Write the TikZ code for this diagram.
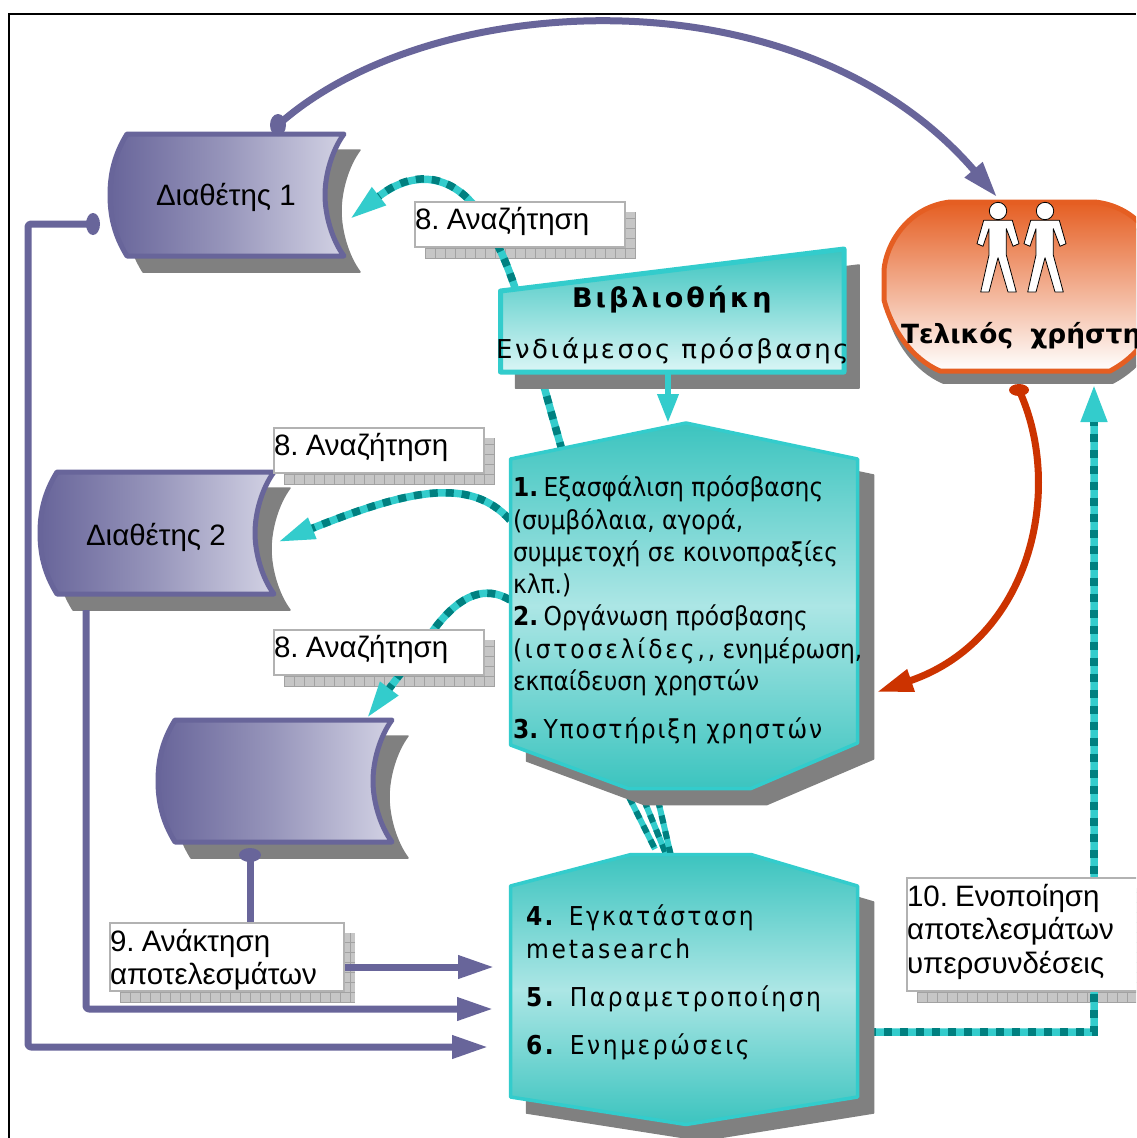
\documentclass[tikz,border=0pt]{standalone}
\usepackage{fontspec}
\setmainfont{Liberation Sans}
\newfontfamily\hexfont[FakeStretch=0.9]{DejaVu Sans}
\newfontfamily\wfont{DejaVu Sans}
\usetikzlibrary{arrows.meta,calc}
\definecolor{purp}{HTML}{68659A}
\definecolor{purpl}{HTML}{D2D2E4}
\definecolor{cy}{HTML}{33CCCC}
\definecolor{tealdk}{HTML}{008080}
\definecolor{hexout}{HTML}{3CC4BF}
\definecolor{hexmid}{HTML}{ACE6E5}
\definecolor{shad}{HTML}{808080}
\definecolor{gridbg}{HTML}{C6C6C6}
\definecolor{gridln}{HTML}{A2A2A2}
\definecolor{orang}{HTML}{E55E22}
\definecolor{redc}{HTML}{CC3300}
\tikzset{
  x=1pt,y=-1pt,
  txt/.style={inner sep=0pt,outer sep=0pt,anchor=base west,text=black},
  lab/.style={txt,font=\fontsize{29.5}{32}\selectfont},
  hx/.style={txt,font=\hexfont\fontsize{26}{30}\selectfont},
  shadowfill/.style={fill=shad,draw=shad,line width=1.5pt,line join=round},
  purpline/.style={draw=purp,line width=7pt,line join=round},
  purparrow/.style={purpline,-{Triangle[length=36pt,width=22pt]}},
  cyanline/.style={draw=cy,line width=7.5pt},
  dashline/.style={draw=tealdk,line width=7.5pt,dash pattern=on 8pt off 8pt},
  cyanhead/.style={-{Triangle[length=37pt,width=21pt]}},
  hexbox/.style={draw=cy,line width=3.5pt,line join=round,top color=hexout,bottom color=hexout,middle color=hexmid},
  labelbox/.style={fill=white,draw=black!30,line width=1.5pt}
}
\newcommand\hexaone{(510.5,459) -- (686,423) -- (857.5,459) -- (857.5,743) -- (751,788.5) -- (628,788.5) -- (510.5,745) -- cycle}
\newcommand\hexatwo{(510.5,886) -- (631,854.5) -- (751,854.5) -- (857.5,886) -- (857.5,1097) -- (686,1124.5) -- (510.5,1097) -- cycle}
\newcommand\libshape{(500.5,291) -- (844,249) -- (844,372) -- (500.5,372) -- cycle}
\newcommand\usershape{(884,270) .. controls (886,245) and (907,207) .. (950,202) -- (1095,202) .. controls (1140,207) and (1160,245) .. (1162,270) -- (1162,300) .. controls (1155,330) and (1140,355) .. (1110,371) -- (940,371) .. controls (912,359) and (892,330) .. (884,300) -- cycle}
\newcommand\scrollpath{(127,134) -- (344,134) .. controls (332,150) and (325,175) .. (325,195) .. controls (325,215) and (332,240) .. (344,256) -- (127,256) .. controls (114,235) and (110,215) .. (110,195) .. controls (110,175) and (114,155) .. (127,134) -- cycle}
\newcommand\scrollat[2]{%
  \begin{scope}[shift={(#1,#2)}]
    \path[shadowfill,shift={(16,16)}] \scrollpath;
    \path[draw=purp,line width=5pt,line join=round,left color=purp,right color=purpl,middle color=purp!55!purpl] \scrollpath;
  \end{scope}}
\newcommand\labshadow[4]{%
  \begin{scope}
    \clip ({#1+10},{#2+10}) rectangle ({#3+11},{#4+11});
    \fill[gridbg] ({#1+10},{#2+10}) rectangle ({#3+11},{#4+11});
    \foreach \g in {0,10,...,300}{
      \draw[gridln,line width=.7pt] ({#1+10+\g},{#2+10}) -- ({#1+10+\g},{#4+11});
    }
    \foreach \g in {0,10,...,130}{
      \draw[gridln,line width=.7pt] ({#1+10},{#4+11-\g}) -- ({#3+11},{#4+11-\g});
    }
  \end{scope}}
\newcommand\persona[1]{%
  \begin{scope}[shift={#1}]
    \draw[fill=white,draw=black,line width=.8pt,line join=round] (-14.3,9.3) -- (14.3,9.3) -- (21,32.7) -- (15,35.3) -- (8.3,17.7) -- (8.3,44) -- (18.3,81) -- (10,81) -- (0,46.7) -- (-9,81) -- (-17.3,81) -- (-9,44) -- (-9,17.7) -- (-15,35.3) -- (-21,32.7) -- cycle;
    \draw[fill=white,draw=black,line width=.8pt] (0,0) circle (8.7);
  \end{scope}}
\newcommand\trk[1]{\addfontfeature{LetterSpace=#1}}
\begin{document}
\begin{tikzpicture}
\useasboundingbox (0,0) rectangle (1136,1138);
\fill[white] (0,0) rectangle (1136,1138);
\begin{scope}
\clip (0,0) rectangle (1136,1138);
\draw[black,line width=1.6pt] (9,1138) -- (9,14) -- (1136,14);

% connector end points
\coordinate (hubA) at (562,450);
\coordinate (tipDa) at (350,219);
\coordinate (hubB) at (510,520);
\coordinate (tipDb) at (278,542);
\coordinate (hubC) at (510,600);
\coordinate (tipDc) at (367,718);
\coordinate (srcA) at (278,125);
\coordinate (userTop) at (997,197);
\coordinate (srcD) at (93,224);
\coordinate (inSix) at (488,1047);
\coordinate (srcE) at (86,610);
\coordinate (inFive) at (493,1009);
\coordinate (srcF) at (250,855);
\coordinate (inFour) at (494,967);
\coordinate (srcU) at (1019,390);
\coordinate (hubR) at (877,692);
\coordinate (outH) at (868,1032);
\coordinate (userBot) at (1094,385);
\coordinate (libOut) at (668,374);
\coordinate (hubTop) at (668,423);
\coordinate (aOne) at (629,797);
\coordinate (aTwo) at (655,849);
\coordinate (bOne) at (644,800);
\coordinate (bTwo) at (666,854);
\coordinate (cOne) at (658,800);
\coordinate (cTwo) at (671,856);

% label shadows
\labshadow{415}{202}{625}{247}
\labshadow{274}{428}{484}{473}
\labshadow{274}{630}{484}{675}
\labshadow{110}{923}{344}{991}
\labshadow{907}{878}{1200}{991}

% scroll shapes and user shape
\scrollat{0}{0}
\scrollat{-70}{338}
\scrollat{48}{586}
\path[shadowfill,shift={(3,12)}] \usershape;
\path[draw=orang,line width=5pt,line join=round,top color=orang,bottom color=white] \usershape;
\persona{(998,211)}
\persona{(1045,211)}

% dashed connectors
\newcommand\dashedpath[2]{%
  \draw[cyanline,#1] #2;
  \draw[dashline,#1,-,shorten >=37pt] #2;}
\dashedpath{cyanhead}{(hubA) .. controls (530,340) and (515,270) .. (490,232) .. controls (470,185) and (425,160) .. (tipDa)}
\dashedpath{cyanhead}{(hubB) .. controls (470,476) and (408,490) .. (tipDb)}
\dashedpath{cyanhead}{(hubC) .. controls (485,585) and (460,595) .. (435,628) -- (tipDc)}
\draw[cyanline,line width=6pt] (aOne) -- (aTwo);
\draw[dashline,line width=6pt] (aOne) -- (aTwo);
\draw[cyanline,line width=6pt] (bOne) -- (bTwo);
\draw[dashline,line width=6pt] (bOne) -- (bTwo);
\draw[cyanline,line width=6pt] (cOne) -- (cTwo);
\draw[dashline,line width=6pt] (cOne) -- (cTwo);
\draw[cyanline,-{Triangle[length=37pt,width=25pt]},rounded corners=3pt] (outH) -- (userBot |- outH) -- (userBot);
\draw[dashline,shorten >=37pt] (outH) -- (userBot |- outH) -- (userBot);

% purple connectors
\draw[draw=purp,line width=7pt,-{Triangle[length=36pt,width=22pt]}] (srcA) .. controls (430,-11) and (800,-32) .. (userTop);
\fill[purp] (srcA) ellipse (8 and 11);
\draw[purparrow,rounded corners=3pt] (srcD) -- (srcD -| 28,0) -- (28,1047) -- (inSix);
\fill[purp] (srcD) ellipse (7 and 11);
\draw[purparrow,rounded corners=3pt] (srcE) -- (srcE |- inFive) -- (inFive);
\draw[purparrow] (srcF) -- (srcF |- inFour) -- (inFour);
\fill[purp] (srcF) ellipse (11 and 7);

% red connector
\draw[draw=redc,line width=7pt,-{Triangle[length=36pt,width=22pt]}] (srcU) .. controls (1065,490) and (1030,640) .. (hubR);
\fill[redc] (srcU) ellipse (10 and 6);

% library and activity blocks
\path[shadowfill,shift={(15,16)}] \libshape;
\path[draw=cy,line width=5pt,line join=round,top color=hexout,bottom color=white!82!cy] \libshape;
\path[shadowfill,shift={(16,16)}] \hexaone;
\path[hexbox] \hexaone;
\path[shadowfill,shift={(16,16)}] \hexatwo;
\path[hexbox] \hexatwo;
\draw[draw=cy,line width=6.5pt,-{Triangle[length=29pt,width=20pt]}] (libOut) -- (hubTop);

% label boxes
\draw[labelbox] (415,202) rectangle (625,247);
\draw[labelbox] (274,428) rectangle (484,473);
\draw[labelbox] (274,630) rectangle (484,675);
\draw[labelbox] (110,923) rectangle (344,991);
\draw[labelbox] (907,878) rectangle (1200,991);

% texts
\node[lab] (t1) at (415,229) {8.\kern-1pt\ Αναζήτηση};
\node[lab] (t2) at (274,455) {8.\kern-1pt\ Αναζήτηση};
\node[lab] (t3) at (274,657) {8.\kern-1pt\ Αναζήτηση};
\node[lab] (t4) at (110,951) {9.\kern-1pt\ Ανάκτηση};
\node[lab] (t5) at (110,984) {αποτελεσμάτων};
\node[lab] (t6) at (907,906) {10.\kern-1pt\ Ενοποίηση};
\node[lab] (t7) at (907,939) {αποτελεσμάτων};
\node[lab] (t8) at (907,973) {υπερσυνδέσεις};
\node[lab] (d1) at (156,205) {Διαθέτης 1};
\node[lab] (d2) at (86,545) {Διαθέτης 2};
\node[txt,font=\wfont\bfseries\fontsize{27}{30}\selectfont] (lb1) at (572,307) {\trk{11}Βιβλιοθήκη};
\node[txt,font=\wfont\fontsize{26}{30}\selectfont] (lb2) at (496,358) {\trk{10}Ενδιάμεσος πρόσβασης};
\node[txt,font=\wfont\bfseries\fontsize{26.4}{30}\selectfont] (usr) at (901,343) {Τελικός\hspace{8pt} χρήστης};
\node[hx] (h1) at (513,496) {\textbf{1.}\kern-2pt\ Εξασφάλιση πρόσβασης};
\node[hx] (h2) at (513,529) {(συμβόλαια, αγορά,};
\node[hx] (h3) at (513,561) {συμμετοχή σε κοινοπραξίες};
\node[hx] (h4) at (513,593) {κλπ.)};
\node[hx] (h5) at (513,625) {\textbf{2.}\kern-2pt\ Οργάνωση πρόσβασης};
\node[hx] (h6) at (513,658) {{\trk{11}(ιστοσελίδες,,} ενημέρωση,};
\node[hx] (h7) at (513,690) {εκπαίδευση χρηστών};
\node[hx] (h8) at (513,738) {\textbf{3.}\kern-2pt\ {\trk{7}Υποστήριξη χρηστών}};
\node[hx] (h9) at (526,925) {\trk{9}\textbf{4.} Εγκατάσταση};
\node[hx] (h10) at (526,958) {\trk{11}metasearch};
\node[hx] (h11) at (526,1006) {\trk{10}\textbf{5.} Παραμετροποίηση};
\node[hx] (h12) at (526,1054) {\trk{10}\textbf{6.} Ενημερώσεις};
\end{scope}
\end{tikzpicture}
\end{document}
